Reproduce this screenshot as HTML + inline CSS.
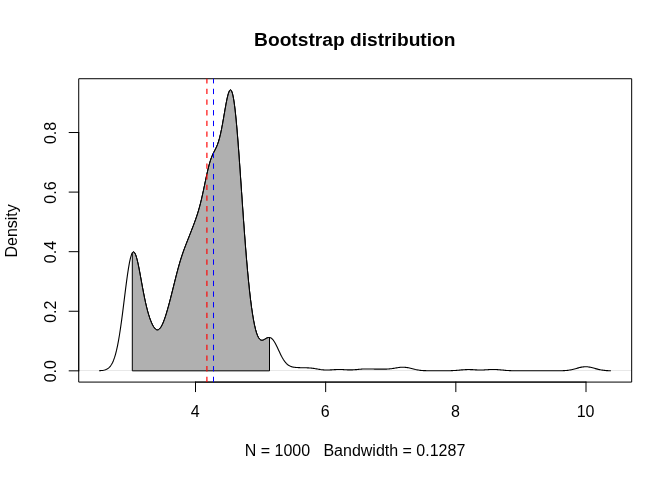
<!DOCTYPE html>
<html lang="en"><head><meta charset="utf-8"><title>Bootstrap distribution</title>
<style>
html,body{margin:0;padding:0;background:#fff;}
body{width:672px;height:480px;overflow:hidden;}
svg{display:block;}
text{font-family:"Liberation Sans",Arial,Helvetica,sans-serif;fill:#000;}
</style></head><body>
<svg width="672" height="480" viewBox="0 0 672 480">
<rect x="0" y="0" width="672" height="480" fill="#ffffff"/>
<!-- density curve -->
<polyline points="99.50,370.71 100.50,370.65 101.50,370.57 102.50,370.45 103.50,370.29 104.50,370.07 105.50,369.76 106.50,369.36 107.50,368.82 108.50,368.11 109.50,367.20 110.50,366.03 111.50,364.55 112.50,362.70 113.50,360.42 114.50,357.65 115.50,354.33 116.50,350.41 117.50,345.84 118.50,340.61 119.50,334.72 120.50,328.20 121.50,321.11 122.50,313.56 123.50,305.68 124.50,297.64 125.50,289.64 126.50,281.89 127.50,274.63 128.50,268.08 129.50,262.45 130.50,257.91 131.50,254.60 132.50,252.62 133.50,251.97 134.50,252.64 135.50,254.53 136.50,257.52 137.50,261.42 138.50,266.03 139.50,271.15 140.50,276.58 141.50,282.11 142.50,287.59 143.50,292.89 144.50,297.91 145.50,302.59 146.50,306.89 147.50,310.81 148.50,314.34 149.50,317.51 150.50,320.32 151.50,322.79 152.50,324.92 153.50,326.70 154.50,328.11 155.50,329.14 156.50,329.75 157.50,329.93 158.50,329.67 159.50,328.97 160.50,327.81 161.50,326.24 162.50,324.26 163.50,321.92 164.50,319.26 165.50,316.31 166.50,313.13 167.50,309.73 168.50,306.17 169.50,302.46 170.50,298.63 171.50,294.71 172.50,290.72 173.50,286.69 174.50,282.66 175.50,278.66 176.50,274.72 177.50,270.89 178.50,267.19 179.50,263.65 180.50,260.28 181.50,257.09 182.50,254.08 183.50,251.21 184.50,248.48 185.50,245.83 186.50,243.25 187.50,240.71 188.50,238.18 189.50,235.64 190.50,233.10 191.50,230.53 192.50,227.95 193.50,225.33 194.50,222.65 195.50,219.90 196.50,217.02 197.50,213.97 198.50,210.71 199.50,207.19 200.50,203.38 201.50,199.28 202.50,194.91 203.50,190.31 204.50,185.57 205.50,180.80 206.50,176.11 207.50,171.63 208.50,167.46 209.50,163.70 210.50,160.39 211.50,157.53 212.50,155.09 213.50,152.96 214.50,151.02 215.50,149.09 216.50,147.02 217.50,144.62 218.50,141.75 219.50,138.30 220.50,134.23 221.50,129.53 222.50,124.29 223.50,118.65 224.50,112.82 225.50,107.05 226.50,101.65 227.50,96.94 228.50,93.23 229.50,90.82 230.50,89.98 231.50,90.91 232.50,93.76 233.50,98.58 234.50,105.35 235.50,113.97 236.50,124.26 237.50,136.00 238.50,148.89 239.50,162.65 240.50,176.95 241.50,191.49 242.50,206.00 243.50,220.21 244.50,233.94 245.50,247.01 246.50,259.31 247.50,270.75 248.50,281.29 249.50,290.90 250.50,299.58 251.50,307.33 252.50,314.18 253.50,320.13 254.50,325.22 255.50,329.49 256.50,332.96 257.50,335.68 258.50,337.71 259.50,339.10 260.50,339.93 261.50,340.28 262.50,340.25 263.50,339.93 264.50,339.42 265.50,338.83 266.50,338.26 267.50,337.79 268.50,337.51 269.50,337.48 270.50,337.74 271.50,338.32 272.50,339.23 273.50,340.46 274.50,341.98 275.50,343.74 276.50,345.69 277.50,347.77 278.50,349.92 279.50,352.07 280.50,354.17 281.50,356.16 282.50,358.01 283.50,359.69 284.50,361.18 285.50,362.48 286.50,363.58 287.50,364.49 288.50,365.23 289.50,365.83 290.50,366.29 291.50,366.65 292.50,366.93 293.50,367.14 294.50,367.29 295.50,367.41 296.50,367.50 297.50,367.57 298.50,367.63 299.50,367.67 300.50,367.70 301.50,367.72 302.50,367.74 303.50,367.75 304.50,367.76 305.50,367.78 306.50,367.80 307.50,367.83 308.50,367.88 309.50,367.94 310.50,368.03 311.50,368.13 312.50,368.25 313.50,368.40 314.50,368.55 315.50,368.72 316.50,368.90 317.50,369.08 318.50,369.25 319.50,369.41 320.50,369.57 321.50,369.70 322.50,369.81 323.50,369.90 324.50,369.97 325.50,370.01 326.50,370.03 327.50,370.02 328.50,370.00 329.50,369.95 330.50,369.90 331.50,369.84 332.50,369.77 333.50,369.70 334.50,369.64 335.50,369.58 336.50,369.54 337.50,369.51 338.50,369.49 339.50,369.49 340.50,369.50 341.50,369.53 342.50,369.57 343.50,369.62 344.50,369.68 345.50,369.73 346.50,369.78 347.50,369.83 348.50,369.86 349.50,369.88 350.50,369.89 351.50,369.88 352.50,369.85 353.50,369.80 354.50,369.74 355.50,369.66 356.50,369.58 357.50,369.48 358.50,369.39 359.50,369.30 360.50,369.21 361.50,369.14 362.50,369.07 363.50,369.02 364.50,368.98 365.50,368.96 366.50,368.95 367.50,368.95 368.50,368.96 369.50,368.97 370.50,369.00 371.50,369.02 372.50,369.04 373.50,369.06 374.50,369.08 375.50,369.10 376.50,369.11 377.50,369.12 378.50,369.13 379.50,369.14 380.50,369.15 381.50,369.15 382.50,369.15 383.50,369.15 384.50,369.14 385.50,369.12 386.50,369.09 387.50,369.04 388.50,368.98 389.50,368.90 390.50,368.81 391.50,368.69 392.50,368.55 393.50,368.40 394.50,368.23 395.50,368.06 396.50,367.88 397.50,367.71 398.50,367.56 399.50,367.42 400.50,367.31 401.50,367.23 402.50,367.20 403.50,367.20 404.50,367.25 405.50,367.34 406.50,367.47 407.50,367.64 408.50,367.83 409.50,368.06 410.50,368.30 411.50,368.55 412.50,368.80 413.50,369.05 414.50,369.29 415.50,369.52 416.50,369.72 417.50,369.91 418.50,370.07 419.50,370.21 420.50,370.33 421.50,370.43 422.50,370.51 423.50,370.58 424.50,370.63 425.50,370.67 426.50,370.71 427.50,370.73 428.50,370.75 429.50,370.77 430.50,370.78 431.50,370.79 432.50,370.79 433.50,370.80 434.50,370.80 435.50,370.81 436.50,370.81 437.50,370.82 438.50,370.82 439.50,370.82 440.50,370.82 441.50,370.82 442.50,370.82 443.50,370.82 444.50,370.81 445.50,370.80 446.50,370.79 447.50,370.78 448.50,370.76 449.50,370.73 450.50,370.70 451.50,370.66 452.50,370.62 453.50,370.57 454.50,370.50 455.50,370.44 456.50,370.36 457.50,370.28 458.50,370.19 459.50,370.10 460.50,370.01 461.50,369.92 462.50,369.83 463.50,369.75 464.50,369.68 465.50,369.63 466.50,369.59 467.50,369.56 468.50,369.55 469.50,369.56 470.50,369.58 471.50,369.62 472.50,369.66 473.50,369.72 474.50,369.77 475.50,369.83 476.50,369.88 477.50,369.93 478.50,369.96 479.50,369.98 480.50,369.99 481.50,369.99 482.50,369.96 483.50,369.93 484.50,369.88 485.50,369.82 486.50,369.76 487.50,369.69 488.50,369.63 489.50,369.57 490.50,369.52 491.50,369.49 492.50,369.47 493.50,369.46 494.50,369.48 495.50,369.51 496.50,369.56 497.50,369.62 498.50,369.70 499.50,369.78 500.50,369.87 501.50,369.97 502.50,370.07 503.50,370.17 504.50,370.26 505.50,370.35 506.50,370.43 507.50,370.50 508.50,370.56 509.50,370.62 510.50,370.66 511.50,370.70 512.50,370.73 513.50,370.76 514.50,370.78 515.50,370.79 516.50,370.81 517.50,370.81 518.50,370.82 519.50,370.82 520.50,370.82 521.50,370.82 522.50,370.82 523.50,370.82 524.50,370.82 525.50,370.81 526.50,370.81 527.50,370.80 528.50,370.79 529.50,370.79 530.50,370.78 531.50,370.77 532.50,370.77 533.50,370.76 534.50,370.75 535.50,370.75 536.50,370.74 537.50,370.74 538.50,370.74 539.50,370.74 540.50,370.74 541.50,370.74 542.50,370.74 543.50,370.75 544.50,370.75 545.50,370.76 546.50,370.77 547.50,370.77 548.50,370.78 549.50,370.79 550.50,370.80 551.50,370.80 552.50,370.81 553.50,370.81 554.50,370.81 555.50,370.81 556.50,370.81 557.50,370.81 558.50,370.80 559.50,370.78 560.50,370.77 561.50,370.74 562.50,370.71 563.50,370.66 564.50,370.61 565.50,370.54 566.50,370.45 567.50,370.34 568.50,370.21 569.50,370.06 570.50,369.89 571.50,369.69 572.50,369.47 573.50,369.23 574.50,368.97 575.50,368.69 576.50,368.41 577.50,368.13 578.50,367.85 579.50,367.59 580.50,367.35 581.50,367.13 582.50,366.96 583.50,366.83 584.50,366.75 585.50,366.71 586.50,366.73 587.50,366.81 588.50,366.93 589.50,367.09 590.50,367.29 591.50,367.53 592.50,367.78 593.50,368.06 594.50,368.34 595.50,368.62 596.50,368.89 597.50,369.15 598.50,369.40 599.50,369.62 600.50,369.83 601.50,370.01 602.50,370.16 603.50,370.30 604.50,370.41 605.50,370.51 606.50,370.58 607.50,370.64 608.50,370.69 609.50,370.73 610.50,370.76" fill="none" stroke="#000" stroke-width="1.1" stroke-linejoin="round" stroke-linecap="round"/>
<!-- zero line -->
<line x1="78.72" y1="370.5" x2="631.68" y2="370.5" stroke="#000" stroke-opacity="0.09" stroke-width="1"/>
<!-- box -->
<rect x="78.72" y="78.72" width="552.96" height="303.36" fill="none" stroke="#000" stroke-width="1.0" stroke-linejoin="round"/>
<!-- x axis -->
<line x1="195.5" y1="382.08" x2="586.01" y2="382.08" stroke="#000" stroke-width="1.0" stroke-linecap="round"/>
<line x1="195.50" y1="382.08" x2="195.50" y2="391.68" stroke="#000" stroke-width="1.0" stroke-linecap="round"/>
<text x="195.10" y="416.9" font-size="16" text-anchor="middle">4</text>
<line x1="325.67" y1="382.08" x2="325.67" y2="391.68" stroke="#000" stroke-width="1.0" stroke-linecap="round"/>
<text x="325.27" y="416.9" font-size="16" text-anchor="middle">6</text>
<line x1="455.84" y1="382.08" x2="455.84" y2="391.68" stroke="#000" stroke-width="1.0" stroke-linecap="round"/>
<text x="455.44" y="416.9" font-size="16" text-anchor="middle">8</text>
<line x1="586.01" y1="382.08" x2="586.01" y2="391.68" stroke="#000" stroke-width="1.0" stroke-linecap="round"/>
<text x="585.61" y="416.9" font-size="16" text-anchor="middle">10</text>
<!-- y axis -->
<line x1="78.72" y1="370.84" x2="78.72" y2="132.52" stroke="#000" stroke-width="1.0" stroke-linecap="round"/>
<line x1="78.72" y1="370.84" x2="69.12" y2="370.84" stroke="#000" stroke-width="1.0" stroke-linecap="round"/>
<text transform="translate(55.9,371.24) rotate(-90)" font-size="16" text-anchor="middle">0.0</text>
<line x1="78.72" y1="311.26" x2="69.12" y2="311.26" stroke="#000" stroke-width="1.0" stroke-linecap="round"/>
<text transform="translate(55.9,311.66) rotate(-90)" font-size="16" text-anchor="middle">0.2</text>
<line x1="78.72" y1="251.68" x2="69.12" y2="251.68" stroke="#000" stroke-width="1.0" stroke-linecap="round"/>
<text transform="translate(55.9,252.08) rotate(-90)" font-size="16" text-anchor="middle">0.4</text>
<line x1="78.72" y1="192.10" x2="69.12" y2="192.10" stroke="#000" stroke-width="1.0" stroke-linecap="round"/>
<text transform="translate(55.9,192.50) rotate(-90)" font-size="16" text-anchor="middle">0.6</text>
<line x1="78.72" y1="132.52" x2="69.12" y2="132.52" stroke="#000" stroke-width="1.0" stroke-linecap="round"/>
<text transform="translate(55.9,132.92) rotate(-90)" font-size="16" text-anchor="middle">0.8</text>
<!-- shaded CI polygon -->
<polygon points="132.30,370.84 132.30,252.91 132.50,252.62 133.50,251.97 134.50,252.64 135.50,254.53 136.50,257.52 137.50,261.42 138.50,266.03 139.50,271.15 140.50,276.58 141.50,282.11 142.50,287.59 143.50,292.89 144.50,297.91 145.50,302.59 146.50,306.89 147.50,310.81 148.50,314.34 149.50,317.51 150.50,320.32 151.50,322.79 152.50,324.92 153.50,326.70 154.50,328.11 155.50,329.14 156.50,329.75 157.50,329.93 158.50,329.67 159.50,328.97 160.50,327.81 161.50,326.24 162.50,324.26 163.50,321.92 164.50,319.26 165.50,316.31 166.50,313.13 167.50,309.73 168.50,306.17 169.50,302.46 170.50,298.63 171.50,294.71 172.50,290.72 173.50,286.69 174.50,282.66 175.50,278.66 176.50,274.72 177.50,270.89 178.50,267.19 179.50,263.65 180.50,260.28 181.50,257.09 182.50,254.08 183.50,251.21 184.50,248.48 185.50,245.83 186.50,243.25 187.50,240.71 188.50,238.18 189.50,235.64 190.50,233.10 191.50,230.53 192.50,227.95 193.50,225.33 194.50,222.65 195.50,219.90 196.50,217.02 197.50,213.97 198.50,210.71 199.50,207.19 200.50,203.38 201.50,199.28 202.50,194.91 203.50,190.31 204.50,185.57 205.50,180.80 206.50,176.11 207.50,171.63 208.50,167.46 209.50,163.70 210.50,160.39 211.50,157.53 212.50,155.09 213.50,152.96 214.50,151.02 215.50,149.09 216.50,147.02 217.50,144.62 218.50,141.75 219.50,138.30 220.50,134.23 221.50,129.53 222.50,124.29 223.50,118.65 224.50,112.82 225.50,107.05 226.50,101.65 227.50,96.94 228.50,93.23 229.50,90.82 230.50,89.98 231.50,90.91 232.50,93.76 233.50,98.58 234.50,105.35 235.50,113.97 236.50,124.26 237.50,136.00 238.50,148.89 239.50,162.65 240.50,176.95 241.50,191.49 242.50,206.00 243.50,220.21 244.50,233.94 245.50,247.01 246.50,259.31 247.50,270.75 248.50,281.29 249.50,290.90 250.50,299.58 251.50,307.33 252.50,314.18 253.50,320.13 254.50,325.22 255.50,329.49 256.50,332.96 257.50,335.68 258.50,337.71 259.50,339.10 260.50,339.93 261.50,340.28 262.50,340.25 263.50,339.93 264.50,339.42 265.50,338.83 266.50,338.26 267.50,337.79 268.50,337.51 269.50,337.48 269.50,370.84" fill="#b0b0b0" stroke="#000" stroke-width="1.0" stroke-linejoin="round"/>
<polyline points="132.30,252.91 132.50,252.62 133.50,251.97 134.50,252.64 135.50,254.53 136.50,257.52 137.50,261.42 138.50,266.03 139.50,271.15 140.50,276.58 141.50,282.11 142.50,287.59 143.50,292.89 144.50,297.91 145.50,302.59 146.50,306.89 147.50,310.81 148.50,314.34 149.50,317.51 150.50,320.32 151.50,322.79 152.50,324.92 153.50,326.70 154.50,328.11 155.50,329.14 156.50,329.75 157.50,329.93 158.50,329.67 159.50,328.97 160.50,327.81 161.50,326.24 162.50,324.26 163.50,321.92 164.50,319.26 165.50,316.31 166.50,313.13 167.50,309.73 168.50,306.17 169.50,302.46 170.50,298.63 171.50,294.71 172.50,290.72 173.50,286.69 174.50,282.66 175.50,278.66 176.50,274.72 177.50,270.89 178.50,267.19 179.50,263.65 180.50,260.28 181.50,257.09 182.50,254.08 183.50,251.21 184.50,248.48 185.50,245.83 186.50,243.25 187.50,240.71 188.50,238.18 189.50,235.64 190.50,233.10 191.50,230.53 192.50,227.95 193.50,225.33 194.50,222.65 195.50,219.90 196.50,217.02 197.50,213.97 198.50,210.71 199.50,207.19 200.50,203.38 201.50,199.28 202.50,194.91 203.50,190.31 204.50,185.57 205.50,180.80 206.50,176.11 207.50,171.63 208.50,167.46 209.50,163.70 210.50,160.39 211.50,157.53 212.50,155.09 213.50,152.96 214.50,151.02 215.50,149.09 216.50,147.02 217.50,144.62 218.50,141.75 219.50,138.30 220.50,134.23 221.50,129.53 222.50,124.29 223.50,118.65 224.50,112.82 225.50,107.05 226.50,101.65 227.50,96.94 228.50,93.23 229.50,90.82 230.50,89.98 231.50,90.91 232.50,93.76 233.50,98.58 234.50,105.35 235.50,113.97 236.50,124.26 237.50,136.00 238.50,148.89 239.50,162.65 240.50,176.95 241.50,191.49 242.50,206.00 243.50,220.21 244.50,233.94 245.50,247.01 246.50,259.31 247.50,270.75 248.50,281.29 249.50,290.90 250.50,299.58 251.50,307.33 252.50,314.18 253.50,320.13 254.50,325.22 255.50,329.49 256.50,332.96 257.50,335.68 258.50,337.71 259.50,339.10 260.50,339.93 261.50,340.28 262.50,340.25 263.50,339.93 264.50,339.42 265.50,338.83 266.50,338.26 267.50,337.79 268.50,337.51 269.50,337.48" fill="none" stroke="#000" stroke-width="0.6" stroke-linejoin="round" stroke-linecap="butt"/>
<!-- vlines -->
<line x1="206.9" y1="382.08" x2="206.9" y2="78.72" stroke="#ff0000" stroke-width="1.15" stroke-dasharray="5.333 5.333"/>
<line x1="213.5" y1="382.08" x2="213.5" y2="78.72" stroke="#0000ff" stroke-width="1.0" stroke-dasharray="5.333 5.333"/>
<!-- labels -->
<text x="354.8" y="46.4" font-size="19.2" font-weight="bold" text-anchor="middle">Bootstrap distribution</text>
<text x="355.0" y="455.7" font-size="16" text-anchor="middle" xml:space="preserve" style="white-space:pre">N = 1000   Bandwidth = 0.1287</text>
<text transform="translate(17.2,230.9) rotate(-90)" font-size="16" text-anchor="middle">Density</text>
</svg>
</body></html>
